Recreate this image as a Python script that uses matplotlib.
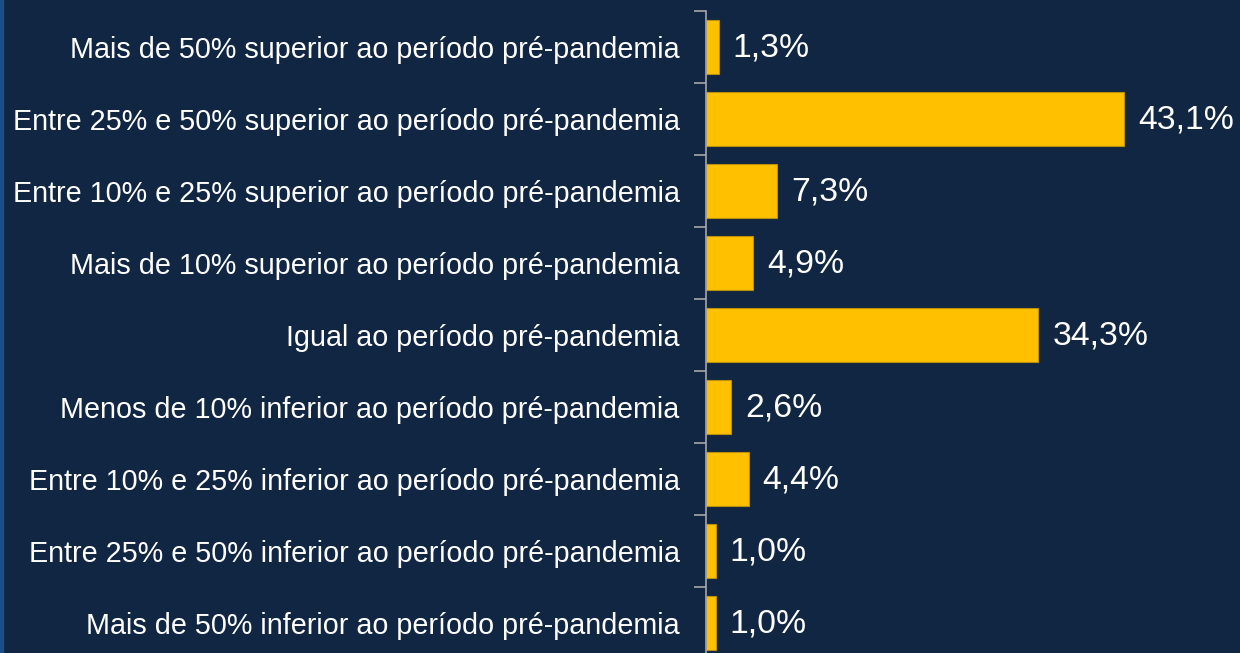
import matplotlib.pyplot as plt
from matplotlib.patches import Rectangle

categories = [
    "Mais de 50% superior ao período pré-pandemia",
    "Entre 25% e 50% superior ao período pré-pandemia",
    "Entre 10% e 25% superior ao período pré-pandemia",
    "Mais de 10% superior ao período pré-pandemia",
    "Igual ao período pré-pandemia",
    "Menos de 10% inferior ao período pré-pandemia",
    "Entre 10% e 25% inferior ao período pré-pandemia",
    "Entre 25% e 50% inferior ao período pré-pandemia",
    "Mais de 50% inferior ao período pré-pandemia",
]
values = [1.3, 43.1, 7.3, 4.9, 34.3, 2.6, 4.4, 1.0, 1.0]
labels = ["1,3%", "43,1%", "7,3%", "4,9%", "34,3%", "2,6%", "4,4%", "1,0%", "1,0%"]

bg = "#112642"
plt.rcParams['font.family'] = ['Liberation Sans', 'DejaVu Sans']

fig = plt.figure(figsize=(12.4, 6.53), dpi=100, facecolor=bg)
ax = fig.add_axes([706 / 1240, -6 / 653, 534 / 1240, 648 / 653])
ax.set_facecolor(bg)
fig.patches.append(Rectangle((0, 0), 3 / 1240, 1, transform=fig.transFigure,
                             color="#1f4e86", zorder=5))

y = list(range(len(categories)))
ax.barh(y, values, height=0.76, color="#FFC000", edgecolor="#b8900a", linewidth=0.8)
for yi, v, lab in zip(y, values, labels):
    ax.text(v + 1.45, yi + 0.02, lab, va="center", ha="left", color="white", fontsize=24.3)

ax.set_xlim(0, 55.1)
ax.set_ylim(len(categories) - 0.5, -0.5)
ax.set_xticks([])

ax.set_yticks([i - 0.5 for i in range(len(categories) + 1)])
ax.set_yticklabels([])
ax.set_yticks(y, minor=True)
ax.set_yticklabels(categories, minor=True)
ax.tick_params(axis="y", which="major", length=9, color="#a6a6a6", width=1.2)
ax.tick_params(axis="y", which="minor", length=0, pad=19, labelsize=20.7, labelcolor="white")

for s in ["top", "right", "bottom"]:
    ax.spines[s].set_visible(False)
ax.spines["left"].set_color("#a6a6a6")
ax.spines["left"].set_linewidth(1.2)

fig.savefig("out.png", dpi=100, facecolor=bg)
